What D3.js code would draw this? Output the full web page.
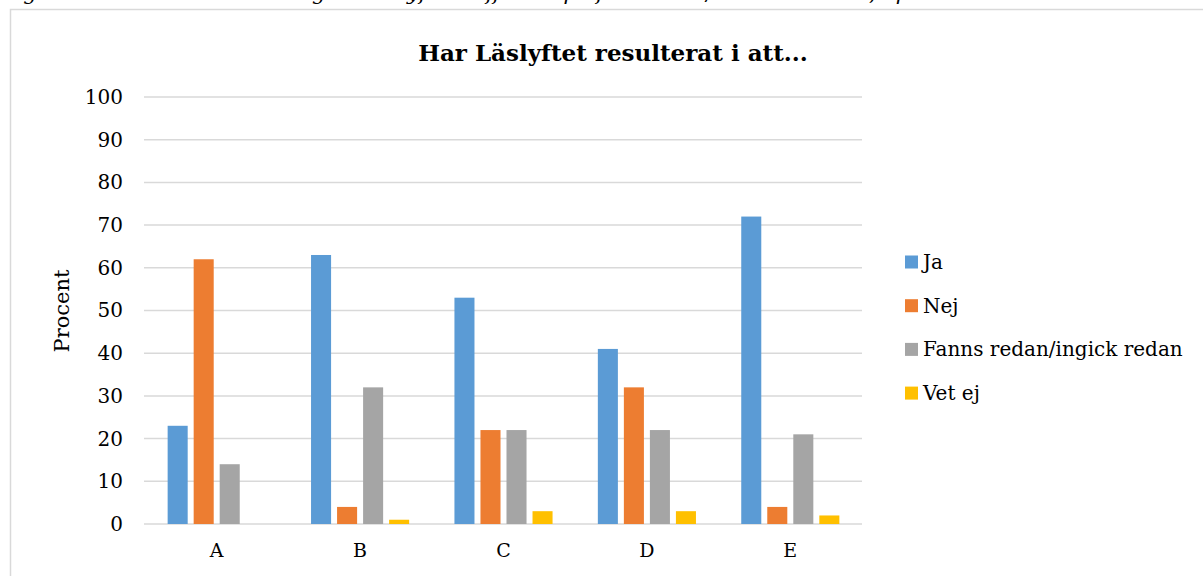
<!DOCTYPE html>
<html>
<head>
<meta charset="utf-8">
<script src="https://cdn.jsdelivr.net/npm/d3@7"></script>
<style>
  body { margin: 0; background: #fff; }
  svg { display: block; font-family: "DejaVu Serif", "Liberation Serif", serif; }
</style>
</head>
<body>
<svg id="chart" width="1203" height="576"></svg>
<script>
// ── data ─────────────────────────────────────────────
const categories = ['A', 'B', 'C', 'D', 'E'];
const seriesNames = ['Ja', 'Nej', 'Fanns redan/ingick redan', 'Vet ej'];
const ja     = [23, 63, 53, 41, 72];
const nej    = [62, 4, 22, 32, 4];
const fanns  = [14, 32, 22, 22, 21];
const vetEj  = [0, 1, 3, 3, 2];
const yTicks = [0, 10, 20, 30, 40, 50, 60, 70, 80, 90, 100];
const colors = ['#5B9BD5', '#ED7D31', '#A5A5A5', '#FFC000'];

const seriesValues = [ja, nej, fanns, vetEj];

// ── setup ────────────────────────────────────────────
const svg = d3.select('#chart');
const margin = { left: 145, right: 341, top: 97, bottom: 52 };
const W = 1203, H = 576;

// caption above the chart box (cut off at top, as in the source)
svg.append('text')
  .attr('x', 2).attr('y', 0)
  .attr('font-size', 21).attr('font-style', 'italic')
  .text('Figur 6. Skolornas bedömning av Läslyftets effekter på förskolans/skolans arbete, i procent');

// chart area border
svg.append('rect')
  .attr('x', 10.5).attr('y', 9.5)
  .attr('width', 1300).attr('height', 700)
  .attr('fill', '#fff').attr('stroke', '#d9d9d9').attr('stroke-width', 1.5);

const x0 = d3.scaleBand().domain(categories).range([margin.left, W - margin.right]);
const x1 = d3.scaleBand().domain(seriesNames).range([0, x0.bandwidth()])
  .paddingInner(0.23).paddingOuter(0.87);
const y = d3.scaleLinear().domain([0, 100]).range([H - margin.bottom, margin.top]);

// gridlines
svg.append('g')
  .selectAll('line').data(yTicks).join('line')
  .attr('x1', margin.left - 1).attr('x2', W - margin.right)
  .attr('y1', d => y(d)).attr('y2', d => y(d))
  .attr('stroke', '#d9d9d9').attr('stroke-width', 1.5);

// y axis labels
const yAxis = d3.axisLeft(y).tickValues(yTicks).tickSize(0).tickPadding(22);
svg.append('g')
  .attr('transform', `translate(${margin.left},0)`)
  .call(yAxis)
  .call(g => g.select('.domain').remove())
  .selectAll('text')
  .attr('font-family', '"DejaVu Serif", serif')
  .attr('font-size', 20).attr('fill', '#000');

// x axis labels
const xAxis = d3.axisBottom(x0).tickSize(0).tickPadding(20);
svg.append('g')
  .attr('transform', `translate(0,${y(0)})`)
  .call(xAxis)
  .call(g => g.select('.domain').remove())
  .selectAll('text')
  .attr('font-family', '"DejaVu Serif", serif')
  .attr('font-size', 19).attr('fill', '#000');

// bars
const groups = svg.append('g')
  .selectAll('g').data(categories).join('g')
  .attr('transform', d => `translate(${x0(d)},0)`);

groups.selectAll('rect')
  .data((c, ci) => seriesNames.map((s, si) => ({ s, si, v: seriesValues[si][ci] })))
  .join('rect')
  .attr('x', d => x1(d.s))
  .attr('width', x1.bandwidth())
  .attr('y', d => y(d.v))
  .attr('height', d => y(0) - y(d.v))
  .attr('fill', d => colors[d.si]);

// title
svg.append('text')
  .attr('x', 613).attr('y', 61)
  .attr('text-anchor', 'middle')
  .attr('font-size', 23).attr('font-weight', 'bold')
  .text('Har Läslyftet resulterat i att...');

// y axis title
svg.append('text')
  .attr('transform', 'translate(69,311) rotate(-90)')
  .attr('text-anchor', 'middle')
  .attr('font-size', 21)
  .text('Procent');

// legend
const legend = svg.append('g').attr('transform', 'translate(905,262)');
const li = legend.selectAll('g').data(seriesNames).join('g')
  .attr('transform', (d, i) => `translate(0,${i * 43.7})`);
li.append('rect')
  .attr('x', 0).attr('y', -6.5).attr('width', 13).attr('height', 13)
  .attr('fill', (d, i) => colors[i]);
li.append('text')
  .attr('x', 18).attr('y', 7)
  .attr('font-size', 20)
  .text(d => d);
</script>
</body>
</html>
